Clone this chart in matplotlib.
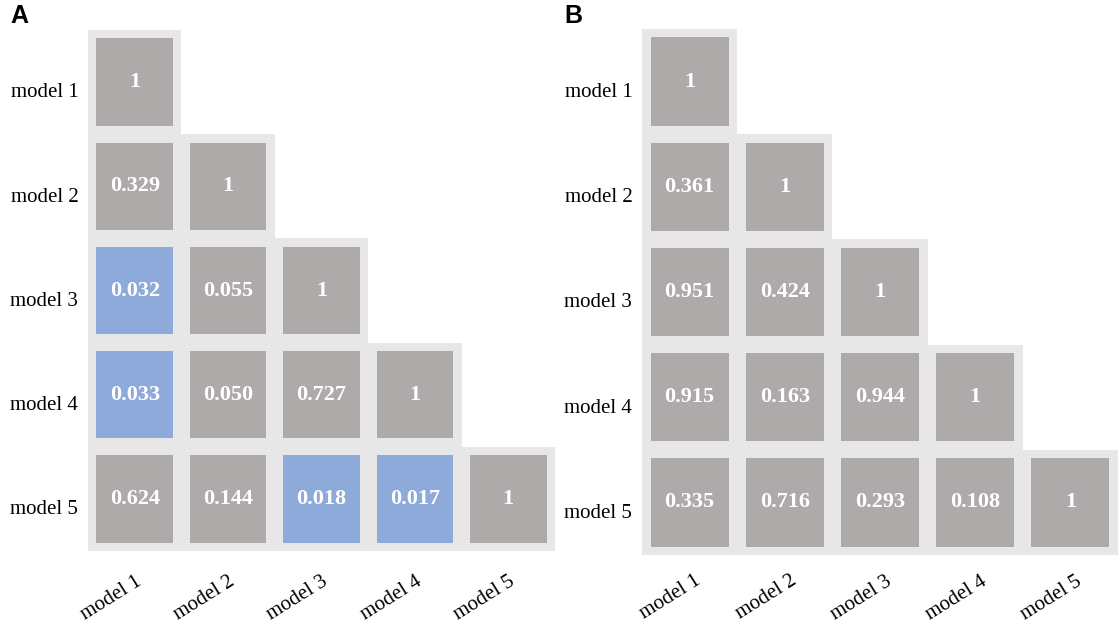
import numpy as np
import matplotlib.pyplot as plt
from matplotlib.patches import Rectangle

# DATA
models = ['model 1', 'model 2', 'model 3', 'model 4', 'model 5']
p_a = [[1],
       [0.329, 1],
       [0.032, 0.055, 1],
       [0.033, 0.050, 0.727, 1],
       [0.624, 0.144, 0.018, 0.017, 1]]
p_b = [[1],
       [0.361, 1],
       [0.951, 0.424, 1],
       [0.915, 0.163, 0.944, 1],
       [0.335, 0.716, 0.293, 0.108, 1]]

BG = '#e7e7e7'
GREY = '#aeaaa9'
BLUE = '#8eaadb'
W, H = 1119, 627


def draw_panel(ax, pvals, mx, my, xoff, xpad):
    n = len(models)
    for i, row in enumerate(pvals):
        for j, p in enumerate(row):
            ax.add_patch(Rectangle((j, i), 1, 1, facecolor=BG, edgecolor='none'))
            col = BLUE if p < 0.05 else GREY
            ax.add_patch(Rectangle((j + mx, i + my), 1 - 2 * mx, 1 - 2 * my,
                                   facecolor=col, edgecolor='none'))
            txt = '1' if i == j else '%.3f' % p
            ax.text(j + 0.5, i + 0.5, txt, ha='center', va='center', color='white',
                    fontsize=16, fontweight='bold', family='Liberation Serif')
    ax.set_xlim(0, n)
    ax.set_ylim(n, 0)
    ax.set_xticks(np.arange(n) + xoff)
    ax.set_yticks(np.arange(n) + 0.58)
    ax.set_xticklabels(models, rotation=32, ha='right', rotation_mode='anchor',
                       family='Liberation Serif', fontsize=15)
    ax.set_yticklabels(models, family='Liberation Serif', fontsize=15)
    ax.tick_params(length=0)
    ax.tick_params(axis='x', pad=xpad)
    ax.tick_params(axis='y', pad=7)
    for s in ax.spines.values():
        s.set_visible(False)


fig = plt.figure(figsize=(W / 100, H / 100), dpi=100)

# panel A: pixel box 88..555 x, 30..551 y
ax1 = fig.add_axes([88 / W, 1 - 551 / H, (555 - 88) / W, (551 - 30) / H])
draw_panel(ax1, p_a, 0.09, 0.08, 0.50, 15)

# panel B: pixel box 642..1118 x, 29..555 y
ax2 = fig.add_axes([642 / W, 1 - 555 / H, (1118 - 642) / W, (555 - 29) / H])
draw_panel(ax2, p_b, 0.09, 0.08, 0.55, 12)

fig.text(10 / W, 1 - 4 / H, 'A', fontsize=18, fontweight='bold',
         family='Liberation Sans', va='top', ha='left')
fig.text(564 / W, 1 - 4 / H, 'B', fontsize=18, fontweight='bold',
         family='Liberation Sans', va='top', ha='left')

fig.savefig('out.png', dpi=100)
